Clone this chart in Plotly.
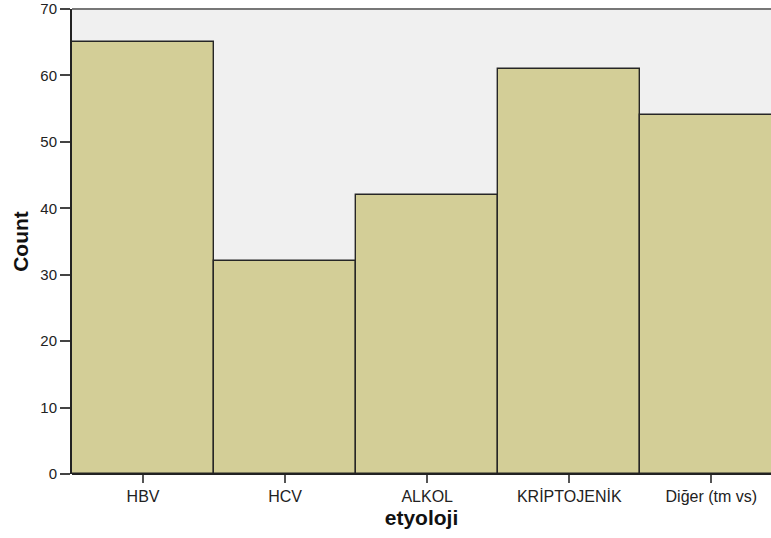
import plotly.graph_objects as go

categories = ["HBV", "HCV", "ALKOL", "KRİPTOJENİK", "Diğer (tm vs)"]
counts = [65, 32, 42, 61, 54]
y_ticks = [0, 10, 20, 30, 40, 50, 60, 70]

fig = go.Figure(go.Bar(
    x=categories, y=counts,
    marker=dict(color="#D3CE97", line=dict(color="#262626", width=1.4)),
    width=1.0,
    hoverinfo="skip",
))

fig.update_layout(
    width=771, height=538,
    margin=dict(l=72, r=0, t=9, b=64),
    paper_bgcolor="white",
    plot_bgcolor="#F0F0F0",
    bargap=0,
    showlegend=False,
    font=dict(family="Liberation Sans, Arial, sans-serif", color="#222"),
    xaxis=dict(
        range=[-0.5, 4.42],
        showgrid=False, zeroline=False,
        ticks="outside", ticklen=8, tickcolor="#555", tickwidth=1.5,
        tickfont=dict(size=16, color="#222"),
        title=dict(text="<b>etyoloji</b>", font=dict(size=21, color="#111"), standoff=6),
        showline=False,
    ),
    yaxis=dict(
        range=[0, 70],
        tickvals=y_ticks,
        showgrid=False, zeroline=False,
        ticks="outside", ticklen=10, tickcolor="#444", tickwidth=1.5,
        tickfont=dict(size=15, color="#222"),
        showline=True, linecolor="#222", linewidth=2,
        title=dict(text="<b>Count</b>", font=dict(size=21, color="#111"), standoff=6),
    ),
    shapes=[dict(type="line", xref="paper", yref="paper", x0=0, x1=1, y0=1, y1=1,
                 line=dict(color="#777", width=2)),
            dict(type="line", xref="paper", yref="paper", x0=0, x1=1, y0=0, y1=0,
                 line=dict(color="#222", width=2))],
)

fig.write_html("out.html",
               config={"displayModeBar": False},
               post_script="document.body.style.margin='0';document.body.style.overflow='hidden';")
